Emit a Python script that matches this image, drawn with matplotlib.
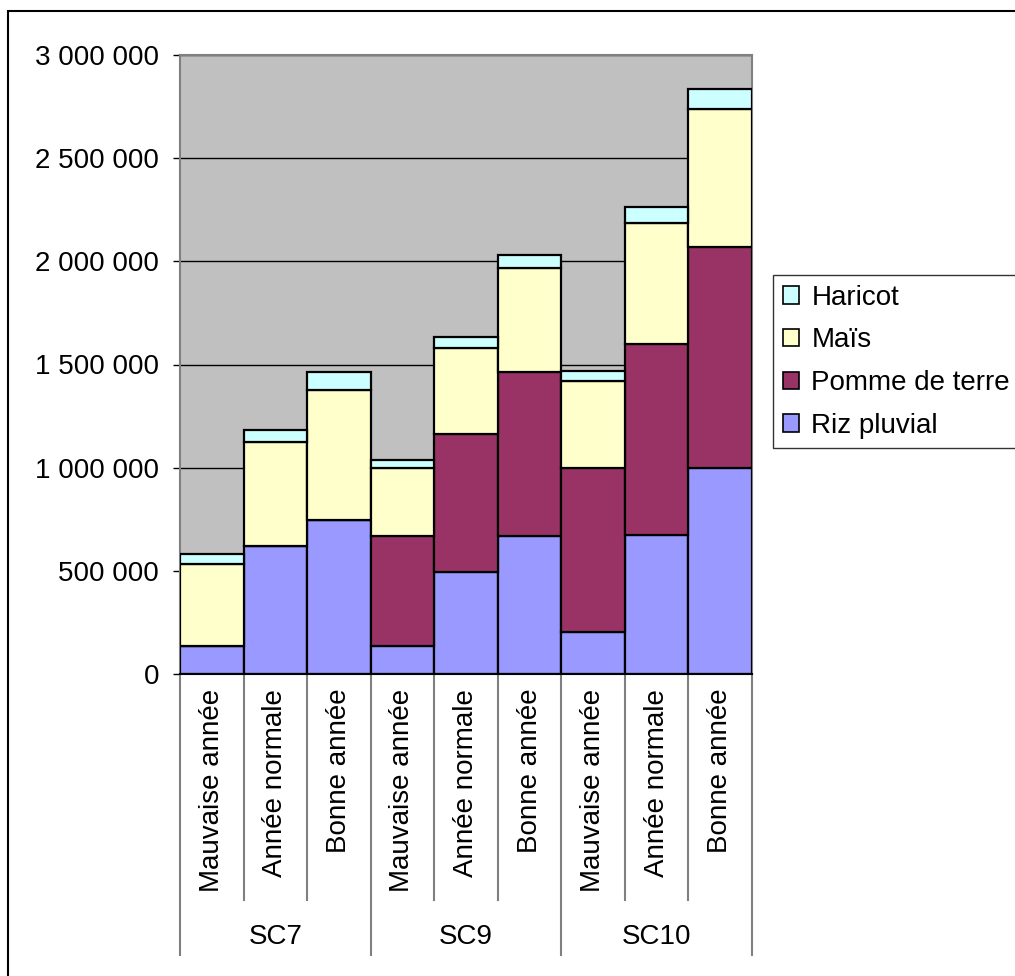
import numpy as np
import matplotlib.pyplot as plt
from matplotlib.lines import Line2D
from matplotlib.patches import Rectangle, Patch

plt.rcParams['font.family'] = ['Liberation Sans', 'DejaVu Sans']

# scénarios et types d'année
groupes = ['SC7', 'SC9', 'SC10']
annees = ['Mauvaise année', 'Année normale', 'Bonne année']

# production par culture (9 barres : 3 années x 3 scénarios)
riz_pluvial = [135000, 622000, 748000, 137000, 496000, 670000, 202000, 672000, 1000000]
pomme_de_terre = [0, 0, 0, 533000, 669000, 796000, 798000, 928000, 1068000]
mais = [399000, 502000, 630000, 330000, 417000, 504000, 420000, 585000, 670000]
haricot = [49000, 60000, 88000, 39000, 49000, 61000, 50000, 77000, 97000]

series = [
    ('Riz pluvial', riz_pluvial, '#9999FF'),
    ('Pomme de terre', pomme_de_terre, '#993366'),
    ('Maïs', mais, '#FFFFCC'),
    ('Haricot', haricot, '#CCFFFF'),
]

FS = 20
W, H = 1015, 976
fig = plt.figure(figsize=(W / 100, H / 100), dpi=100)
ax = fig.add_axes([180 / W, (H - 674) / H, 572 / W, 619 / H])
ax.set_facecolor('#C0C0C0')

x = np.arange(len(riz_pluvial))
bas = np.zeros(len(x))
for nom, vals, couleur in series:
    ax.bar(x, vals, width=1.0, bottom=bas, color=couleur, edgecolor='black',
           linewidth=1.6, zorder=3, label=nom)
    bas += np.array(vals)

ax.set_xlim(-0.5, len(x) - 0.5)
ax.set_ylim(0, 3000000)
yt = np.arange(0, 3000001, 500000)
ax.set_yticks(yt)
ax.set_yticklabels([f'{v:,.0f}'.replace(',', ' ') for v in yt], fontsize=FS)
ax.tick_params(axis='y', length=5, width=1, pad=10, color='black')
ax.set_xticks([])
ax.yaxis.grid(True, color='black', linewidth=1, zorder=0)
ax.set_axisbelow(True)

for s in ['top', 'right', 'left']:
    ax.spines[s].set_color('#808080')
    ax.spines[s].set_linewidth(1.5)
ax.spines['bottom'].set_color('black')
ax.spines['bottom'].set_linewidth(1.5)
ax.spines['bottom'].set_zorder(4)

# axe des catégories à deux niveaux
trans = ax.get_xaxis_transform()
n = len(annees)
for i in range(len(x) + 1):
    xb = i - 0.5
    fin = -0.454 if i % n == 0 else -0.365
    ax.add_line(Line2D([xb, xb], [0, fin], transform=trans, color='#808080',
                       linewidth=1.5, clip_on=False))
for i in x:
    ax.text(i, -0.024, annees[i % n], transform=trans, rotation=90,
            ha='center', va='top', fontsize=FS)
for g, nom in enumerate(groupes):
    ax.text(g * n + (n - 1) / 2, -0.425, nom, transform=trans,
            ha='center', va='center', fontsize=FS)

# légende, ordre inverse des séries
poignees = [Patch(facecolor=c, edgecolor='black', linewidth=1.2, label=nm)
            for nm, _, c in reversed(series)]
leg = fig.legend(handles=poignees, loc='upper left',
                 bbox_to_anchor=(773 / W, 1 - 275 / H), borderaxespad=0,
                 fontsize=FS, frameon=True, fancybox=False, edgecolor='black',
                 handlelength=0.58, handleheight=0.58, handletextpad=0.45,
                 labelspacing=0.6, borderpad=0.35)
leg.get_frame().set_linewidth(1.0)

# cadre extérieur du graphique
fig.add_artist(Rectangle((8 / W, -0.05), 1.1, 1.05 - 11 / H,
                         transform=fig.transFigure, fill=False,
                         edgecolor='black', linewidth=1.5))

fig.savefig('out.png', dpi=100)
